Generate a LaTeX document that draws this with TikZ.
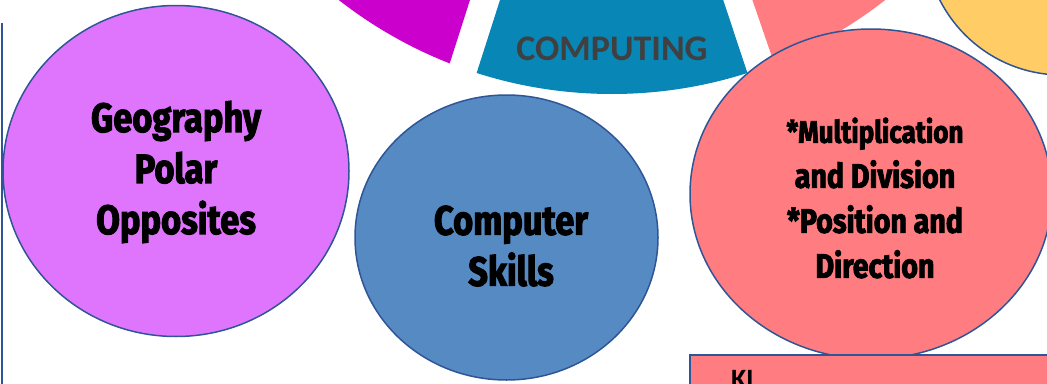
\documentclass[tikz,border=0pt]{standalone}
\usepackage{fontspec}
\setmainfont{Carlito}
\newfontfamily\heavy[BoldFeatures={FakeStretch=0.84,FakeBold=2.5}]{Fira Sans}
\usetikzlibrary{shapes.geometric}
\definecolor{magseg}{HTML}{CC00CC}
\definecolor{compseg}{HTML}{0886B6}
\definecolor{pinkc}{HTML}{FF7C80}
\definecolor{geoc}{HTML}{DF75FC}
\definecolor{bluec}{HTML}{558AC3}
\definecolor{yelc}{HTML}{FFCC66}
\definecolor{bordc}{HTML}{2F5597}
\definecolor{greyt}{HTML}{404040}
\tikzset{
  bubble/.style={ellipse, draw=bordc, line width=1.5pt, inner sep=0pt},
  bubtext/.style={align=center, text=black, inner sep=0pt},
  bigtext/.style={font=\heavy\bfseries\fontsize{41}{51}\selectfont},
  smalltext/.style={font=\heavy\bfseries\fontsize{34}{45}\selectfont},
}
\begin{document}
\begin{tikzpicture}[x=1pt,y=-1pt]
\useasboundingbox (0,0) rectangle (1047,383);
\clip (0,0) rectangle (1047,383);
% ring segments
\begin{scope}
  \clip (612,-350) circle[radius=444pt];
  \fill[magseg] (502,-100) -- (422,150) -- (100,150) -- (100,-100) -- cycle;
  \fill[compseg] (532,-100) -- (452,150) -- (773,150) -- (690,-100) -- cycle;
  \fill[pinkc] (718,-100) -- (804,150) -- (1000,150) -- (1000,-100) -- cycle;
\end{scope}
\node[font=\bfseries\fontsize{36}{40}\selectfont, text=greyt, anchor=base] (comp) at (612,60) {COMPUTING};
% yellow circle
\node[bubble, fill=yelc, minimum width=274pt, minimum height=274pt] (yel) at (1062,-62) {};
% bubbles
\node[bubble, fill=geoc, minimum width=346pt, minimum height=331pt] (geo) at (176,171) {};
\node[bubtext, bigtext] (geotext) at (176,172) {Geography\\Polar\\Opposites};
\node[bubble, fill=bluec, minimum width=303pt, minimum height=285pt] (cs) at (506.5,237.5) {};
\node[bubtext, bigtext] (cstext) at (511,246) {Computer\\Skills};
\node[bubble, fill=pinkc, minimum width=362pt, minimum height=330pt] (math) at (871,194) {};
\node[bubtext, smalltext] (mathtext) at (875,198) {{\fontsize{31}{45}\selectfont *Multiplication}\\and Division\\*Position and\\Direction};
% KL box
\node[rectangle, draw=bordc, line width=1.5pt, fill=pinkc, anchor=north west, minimum width=420pt, minimum height=80pt] (klbox) at (689,354) {};
\node[font=\bfseries\fontsize{28}{30}\selectfont, anchor=base west, inner sep=0pt] (kl) at (731,388) {KL};
% left edge line
\coordinate (lt) at (1.8,23);
\coordinate (lb) at (1.8,390);
\draw[bordc, line width=1.8pt] (lt) -- (lb);
\end{tikzpicture}
\end{document}
